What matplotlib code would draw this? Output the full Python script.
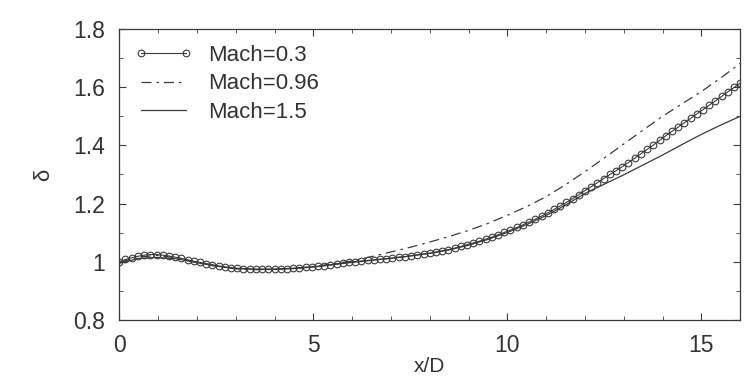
import numpy as np
from matplotlib import pyplot as plt
from matplotlib.ticker import MultipleLocator

# Mach=0.3, sampled every 0.16 in x/D (one value per marker)
x_m03 = np.linspace(0, 16, 101)
d_m03 = [1.000, 1.008, 1.014, 1.019, 1.023, 1.025, 1.025, 1.023, 1.020, 1.016,
         1.012, 1.007, 1.002, 0.998, 0.994, 0.990, 0.986, 0.983, 0.980, 0.978,
         0.977, 0.976, 0.975, 0.975, 0.975, 0.975, 0.976, 0.977, 0.978, 0.979,
         0.981, 0.983, 0.985, 0.987, 0.990, 0.993, 0.996, 0.999, 1.001, 1.003,
         1.005, 1.007, 1.009, 1.011, 1.013, 1.016, 1.018, 1.021, 1.024, 1.027,
         1.030, 1.034, 1.038, 1.042, 1.047, 1.053, 1.059, 1.065, 1.071, 1.078,
         1.085, 1.093, 1.101, 1.109, 1.118, 1.127, 1.137, 1.147, 1.157, 1.168,
         1.180, 1.192, 1.204, 1.217, 1.231, 1.245, 1.258, 1.272, 1.286, 1.300,
         1.313, 1.327, 1.341, 1.356, 1.371, 1.386, 1.401, 1.417, 1.433, 1.448,
         1.463, 1.478, 1.493, 1.508, 1.523, 1.538, 1.553, 1.568, 1.584, 1.599,
         1.614]

# Mach=0.96 and Mach=1.5, every 0.5 in x/D
x_line = np.linspace(0, 16, 33)
d_m096 = [0.998, 1.017, 1.022, 1.013, 0.998, 0.985, 0.976, 0.973, 0.974, 0.978,
          0.984, 0.993, 1.003, 1.018, 1.034, 1.050, 1.068, 1.087, 1.108, 1.132,
          1.160, 1.190, 1.224, 1.265, 1.310, 1.357, 1.405, 1.453, 1.500, 1.543,
          1.585, 1.632, 1.682]
d_m15 = [0.995, 1.012, 1.015, 1.010, 0.997, 0.985, 0.977, 0.974, 0.974, 0.977,
         0.982, 0.990, 0.998, 1.005, 1.012, 1.020, 1.029, 1.041, 1.057, 1.077,
         1.101, 1.128, 1.159, 1.195, 1.235, 1.267, 1.299, 1.333, 1.367, 1.403,
         1.438, 1.470, 1.500]

plt.rcParams['font.family'] = ['Liberation Sans', 'DejaVu Sans']
col = '#3a3a3a'

fig = plt.figure(figsize=(7.5, 3.81), dpi=100)
ax = fig.add_axes([0.159, 0.160, 0.828, 0.764])

ax.plot(x_m03, d_m03, '-o', color=col, lw=0.8, ms=4.8, mfc='none',
        mec=col, mew=0.8, label='Mach=0.3')
ax.plot(x_line, d_m096, color=col, lw=0.9, dashes=(8, 4, 2, 4), label='Mach=0.96')
ax.plot(x_line, d_m15, color=col, lw=0.9, label='Mach=1.5')

ax.set_xlim(0, 16)
ax.set_ylim(0.8, 1.8)
ax.set_xticks([0, 5, 10, 15])
ax.set_yticks([0.8, 1, 1.2, 1.4, 1.6, 1.8])
ax.set_yticklabels(['0.8', '1', '1.2', '1.4', '1.6', '1.8'])
ax.xaxis.set_minor_locator(MultipleLocator(1))
ax.yaxis.set_minor_locator(MultipleLocator(0.1))
ax.tick_params(which='both', direction='in', top=True, right=True,
               colors=col, labelcolor='#333333', labelsize=16.5, pad=10)
ax.tick_params(which='major', length=5, width=0.8)
ax.tick_params(which='minor', length=3, width=0.6)
for s in ax.spines.values():
    s.set_color(col)
    s.set_linewidth(0.9)

ax.set_xlabel('x/D', fontsize=15, color='#333333', labelpad=0)
ax.set_ylabel('δ', fontsize=16, color='#333333', labelpad=14)

ax.legend(loc='upper left', frameon=False, fontsize=16, numpoints=2,
          handlelength=2.6, handletextpad=0.7, labelspacing=0.35,
          borderaxespad=0.3, labelcolor='#333333')

fig.savefig('out.png', dpi=100, facecolor='white')
